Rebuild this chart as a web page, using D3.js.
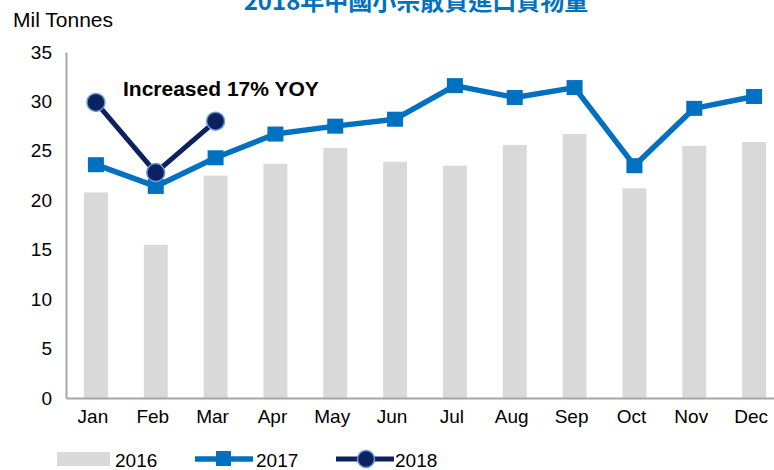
<!DOCTYPE html>
<html>
<head>
<meta charset="utf-8">
<script src="https://cdn.jsdelivr.net/npm/d3@7"></script>
<style>
  body { margin: 0; background: #fff; }
  svg { display: block; font-family: "Liberation Sans", Arial, sans-serif; }
</style>
</head>
<body>
<div id="chart"></div>
<script>
const months = ["Jan", "Feb", "Mar", "Apr", "May", "Jun", "Jul", "Aug", "Sep", "Oct", "Nov", "Dec"];
const y2016 = [20.8, 15.5, 22.5, 23.7, 25.3, 23.9, 23.5, 25.6, 26.7, 21.2, 25.5, 25.9];
const y2017 = [23.6, 21.4, 24.3, 26.7, 27.5, 28.2, 31.6, 30.4, 31.4, 23.5, 29.3, 30.5];
const y2018 = [29.9, 22.8, 28.0];
const yTicks = [0, 5, 10, 15, 20, 25, 30, 35];
const title = "2018年中國小宗散貨進口貨物量";

const width = 774;
const height = 470;
const plotLeft = 66, plotRight = 784, plotTop = 52, plotBottom = 398;

const svg = d3.select("#chart").append("svg")
  .attr("width", width)
  .attr("height", height);

const x = d3.scaleBand().domain(months).range([plotLeft, plotRight])
  .paddingInner(0.6).paddingOuter(0.3);
const y = d3.scaleLinear().domain([0, 35]).range([plotBottom, plotTop]);
const cx = (i) => x(months[i]) + x.bandwidth() / 2;

// title (cropped at the top in the original)
svg.append("text")
  .attr("x", 416).attr("y", 10)
  .attr("text-anchor", "middle")
  .attr("font-family", "'Noto Sans CJK TC', 'Liberation Sans', sans-serif")
  .attr("font-size", 24).attr("font-weight", "bold")
  .attr("fill", "#0070C0")
  .text(title);

svg.append("text")
  .attr("x", 13).attr("y", 27)
  .attr("font-size", 21)
  .attr("fill", "#000")
  .text("Mil Tonnes");

// bars 2016
svg.append("g").selectAll("rect")
  .data(y2016)
  .join("rect")
  .attr("x", (d, i) => x(months[i]))
  .attr("y", (d) => y(d))
  .attr("width", x.bandwidth())
  .attr("height", (d) => y(0) - y(d))
  .attr("fill", "#D9D9D9");

// axes
const yAxis = svg.append("g")
  .attr("transform", `translate(${plotLeft},0)`)
  .call(d3.axisLeft(y).tickValues(yTicks).tickSize(0).tickPadding(14));
yAxis.select(".domain").attr("stroke", "#a6a6a6").attr("stroke-width", 2);
yAxis.selectAll("text").attr("font-size", 19).attr("fill", "#000")
  .attr("font-family", "'Liberation Sans', Arial, sans-serif");

const xAxis = svg.append("g")
  .attr("transform", `translate(0,${plotBottom})`)
  .call(d3.axisBottom(x).tickSize(0).tickPadding(12));
xAxis.select(".domain").attr("stroke", "#a6a6a6").attr("stroke-width", 2);
xAxis.selectAll("text").attr("font-size", 19).attr("fill", "#000")
  .attr("font-family", "'Liberation Sans', Arial, sans-serif")
  .attr("dx", "-3");

// 2017 line
const line = d3.line().x((d, i) => cx(i)).y((d) => y(d));
svg.append("path")
  .datum(y2017)
  .attr("d", line)
  .attr("fill", "none")
  .attr("stroke", "#0070C0")
  .attr("stroke-width", 5.5)
  .attr("stroke-linejoin", "round");
svg.append("g").selectAll("rect")
  .data(y2017)
  .join("rect")
  .attr("x", (d, i) => cx(i) - 8)
  .attr("y", (d) => y(d) - 7.5)
  .attr("width", 16)
  .attr("height", 15)
  .attr("fill", "#0070C0");

// 2018 line
svg.append("path")
  .datum(y2018)
  .attr("d", line)
  .attr("fill", "none")
  .attr("stroke", "#0C215F")
  .attr("stroke-width", 5)
  .attr("stroke-linejoin", "round");
svg.append("g").selectAll("circle")
  .data(y2018)
  .join("circle")
  .attr("cx", (d, i) => cx(i))
  .attr("cy", (d) => y(d))
  .attr("r", 9)
  .attr("fill", "#0C215F")
  .attr("stroke", "#6A9AD8")
  .attr("stroke-width", 1.5);

svg.append("text")
  .attr("x", 123).attr("y", 96)
  .attr("font-size", 21).attr("font-weight", "bold")
  .attr("fill", "#000")
  .text("Increased 17% YOY");

// legend
const lg = svg.append("g").attr("font-size", 19).attr("fill", "#000");
lg.append("rect").attr("x", 57).attr("y", 452).attr("width", 53).attr("height", 14).attr("fill", "#D9D9D9");
lg.append("text").attr("x", 115).attr("y", 467).text("2016");

lg.append("line").attr("x1", 195).attr("x2", 253).attr("y1", 459).attr("y2", 459)
  .attr("stroke", "#0070C0").attr("stroke-width", 5.5);
lg.append("rect").attr("x", 216).attr("y", 451).attr("width", 15).attr("height", 15).attr("fill", "#0070C0");
lg.append("text").attr("x", 256).attr("y", 467).text("2017");

lg.append("line").attr("x1", 336).attr("x2", 394).attr("y1", 459).attr("y2", 459)
  .attr("stroke", "#0C215F").attr("stroke-width", 5);
lg.append("circle").attr("cx", 366).attr("cy", 459).attr("r", 8.5)
  .attr("fill", "#0C215F").attr("stroke", "#6A9AD8").attr("stroke-width", 1.5);
lg.append("text").attr("x", 395).attr("y", 467).text("2018");
</script>
</body>
</html>
